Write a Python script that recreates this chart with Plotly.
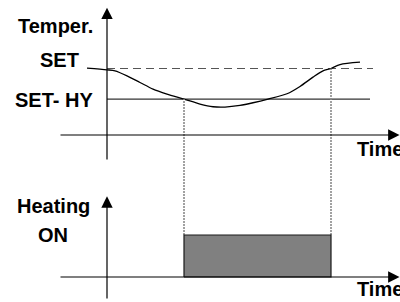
import plotly.graph_objects as go

# ---------------- data (schematic units) ----------------
time_curve = [-2.0, 0.0, 0.8, 2.0, 3.3, 4.6, 6.0, 7.7, 9.3, 10.6, 11.8, 13.3,
              14.6, 16.1, 18.0, 19.3, 20.6, 21.6, 22.4, 23.3, 25.3]
temp_curve = [20.1, 19.6, 19.3, 17.8, 15.8, 13.8, 12.3, 10.8, 9.3, 8.5, 8.4, 8.9,
              9.7, 10.8, 12.4, 14.6, 17.4, 19.3, 20.0, 21.2, 21.9]
SET = 20.0
HY = 9.2
heat_on_time = 7.7      # curve falls below SET-HY
heat_off_time = 22.4    # curve reaches SET
heat_level = [0, 1]     # OFF / ON
labels_temp = ["Temper.", "SET", "SET- HY"]
labels_heat = ["Heating", "ON"]
label_time = "Time"

# ---------------- layout helpers ----------------
W, H = 400, 302
X_RANGE = [-10.7, 29.3]
T_RANGE = [-50.226, 40.602]
H_RANGE = [-0.5952, 6.5952]
LINE_END = 26.6
FONT = dict(family="Liberation Sans, Arial, sans-serif", size=20, color="black")


def t_to_heat(v):
    """convert temperature-axis value to heating-axis value (same screen height)"""
    f = (v - T_RANGE[0]) / (T_RANGE[1] - T_RANGE[0])
    return H_RANGE[0] + f * (H_RANGE[1] - H_RANGE[0])


fig = go.Figure()

# SET dashed line
fig.add_trace(go.Scatter(x=[0, LINE_END], y=[SET, SET], mode="lines",
                         line=dict(color="#555555", width=1.2, dash="8px,5px"),
                         yaxis="y", hoverinfo="skip"))
# SET-HY line
fig.add_trace(go.Scatter(x=[0, LINE_END - 0.3], y=[SET - HY, SET - HY], mode="lines",
                         line=dict(color="#333333", width=1.1),
                         yaxis="y", hoverinfo="skip"))
# dotted guide lines (down to top of heating bar), on heating axis
for t0, tv in [(heat_on_time, SET - HY), (heat_off_time, SET)]:
    fig.add_trace(go.Scatter(x=[t0, t0], y=[heat_level[1], t_to_heat(tv)], mode="lines",
                             line=dict(color="#8a8a8a", width=1.6, dash="2px,1px"),
                             yaxis="y2", hoverinfo="skip"))
# temperature curve
fig.add_trace(go.Scatter(x=time_curve, y=temp_curve, mode="lines",
                         line=dict(color="black", width=1.3, shape="spline", smoothing=0.8),
                         yaxis="y", hoverinfo="skip"))
# heating bar
fig.add_trace(go.Scatter(x=[heat_on_time, heat_on_time, heat_off_time, heat_off_time, heat_on_time],
                         y=[heat_level[0], heat_level[1], heat_level[1], heat_level[0], heat_level[0]],
                         mode="lines", fill="toself", fillcolor="#808080",
                         line=dict(color="#1a1a1a", width=1.2),
                         yaxis="y2", hoverinfo="skip"))

# axes with arrows
arrows = [
    # (x_tip, y_tip, x_start, y_start, axis)
    (29.25, 0, -4.8, 0, "y"),        # top time axis
    (0, 38.3, 0, -7.8, "y"),         # temperature axis
    (29.25, 0, -4.8, 0, "y2"),       # bottom time axis
    (0, 1.92, 0, -0.55, "y2"),       # heating axis
]
ann = []
for xt, yt, xs, ys, ya in arrows:
    ann.append(dict(x=xt, y=yt, ax=xs, ay=ys, xref="x", yref=ya, axref="x", ayref=ya,
                    text="", showarrow=True, arrowhead=2, arrowsize=1.9,
                    arrowwidth=1.2, arrowcolor="black"))


def px(xp):
    return xp / W


def py(yp):
    return 1 - yp / H


texts = [
    (labels_temp[0], 95, 26, "right"),
    (labels_temp[1], 81, 60, "right"),
    (labels_temp[2], 95, 100, "right"),
    (labels_heat[0], 53, 206, "center"),
    (labels_heat[1], 53, 235, "center"),
    (label_time, 355, 148.5, "left"),
    (label_time, 355, 289, "left"),
]
for txt, xp, yp, xa in texts:
    ann.append(dict(x=px(xp), y=py(yp), xref="paper", yref="paper", text="<b>" + txt + "</b>",
                    showarrow=False, xanchor=xa, yanchor="middle", font=FONT))

fig.update_layout(
    width=W, height=H, margin=dict(l=0, r=0, t=0, b=0),
    paper_bgcolor="white", plot_bgcolor="white", showlegend=False,
    xaxis=dict(range=X_RANGE, visible=False, fixedrange=True),
    yaxis=dict(range=T_RANGE, visible=False, fixedrange=True),
    yaxis2=dict(range=H_RANGE, visible=False, overlaying="y", fixedrange=True),
    annotations=ann,
)

fig.write_html("out.html", config={"displayModeBar": False},
               post_script="document.body.style.margin='0';document.body.style.overflow='hidden';")
